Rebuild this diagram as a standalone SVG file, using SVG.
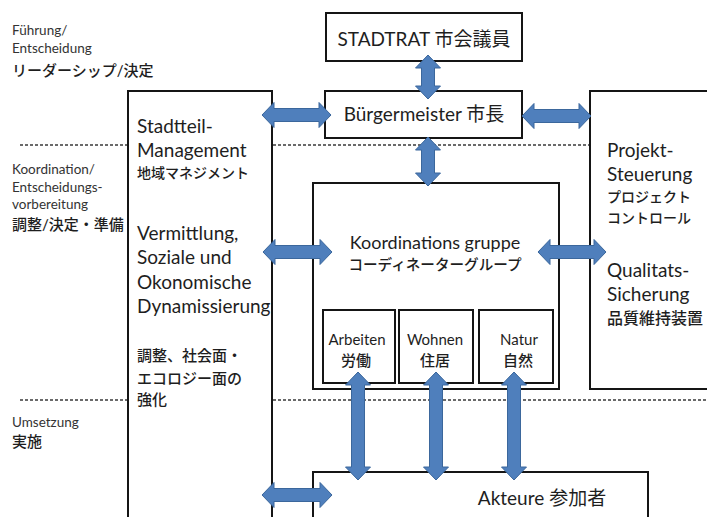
<svg xmlns="http://www.w3.org/2000/svg" width="707" height="517" viewBox="0 0 707 517">
<style>
text{font-family:Lato,"Noto Sans CJK JP",sans-serif;fill:#1e1e1e}
.sm{font-size:13.5px;fill:#333}
.jl{font-size:15px;font-weight:500}
.big{font-size:19px}
.jm{font-size:14px;font-weight:500}
.sub{font-size:15px}
.box{fill:#fff;stroke:#151515;stroke-width:2}
.dash{stroke:#3a3a3a;stroke-width:1.5;stroke-dasharray:3 2;fill:none}
.arr{fill:#4f7fbc;stroke:#3b679c;stroke-width:1}
.mid{text-anchor:middle}
</style>
<rect width="707" height="517" fill="#fff"/>
<g id="levels">
<line class="dash" x1="20" y1="145" x2="128" y2="145"/>
<line class="dash" x1="273" y1="145" x2="590" y2="145"/>
<line class="dash" x1="20" y1="400" x2="128" y2="400"/>
<line class="dash" x1="273" y1="400" x2="707" y2="400"/>
<text class="sm" x="12" y="35">Führung/</text>
<text class="sm" x="12" y="53">Entscheidung</text>
<text class="jl" x="12" y="76">リーダーシップ/決定</text>
<text class="sm" x="12" y="174">Koordination/</text>
<text class="sm" x="12" y="192">Entscheidungs-</text>
<text class="sm" x="12" y="209">vorbereitung</text>
<text class="jl" x="12" y="230">調整/決定・準備</text>
<text class="sm" x="12" y="427">Umsetzung</text>
<text class="jl" x="12" y="447">実施</text>
</g>
<g id="stadtrat">
<rect class="box" x="326" y="13" width="196" height="48"/>
<text class="big mid" x="424" y="46">STADTRAT 市会議員</text>
</g>
<g id="buergermeister">
<rect class="box" x="325" y="91" width="197" height="47"/>
<text class="big mid" x="424" y="121">Bürgermeister 市長</text>
</g>
<g id="stadtteil">
<rect class="box" x="128" y="91" width="144" height="440"/>
<text class="big" x="137" y="133">Stadtteil-</text>
<text class="big" x="137" y="157">Management</text>
<text class="jm" x="137" y="178">地域マネジメント</text>
<text class="big" x="137" y="240">Vermittlung,</text>
<text class="big" x="137" y="264">Soziale und</text>
<text class="big" x="137" y="289">Okonomische</text>
<text class="big" x="137" y="313">Dynamissierung</text>
<text class="jl" x="137" y="361">調整、社会面・</text>
<text class="jl" x="137" y="384">エコロジー面の</text>
<text class="jl" x="137" y="405">強化</text>
</g>
<g id="projekt">
<rect class="box" x="590" y="91" width="130" height="298"/>
<text class="big" x="607" y="157">Projekt-</text>
<text class="big" x="607" y="181">Steuerung</text>
<text class="jm" x="607" y="202">プロジェクト</text>
<text class="jm" x="607" y="223">コントロール</text>
<text class="big" x="607" y="277">Qualitats-</text>
<text class="big" x="607" y="301">Sicherung</text>
<text class="jl" x="607" y="324" style="font-size:16px">品質維持装置</text>
</g>
<g id="koordination">
<rect class="box" x="313" y="183" width="246" height="206"/>
<text class="mid" x="435" y="249" style="font-size:18px">Koordinations gruppe</text>
<text class="mid" x="435" y="270" style="font-size:14.6px;font-weight:500">コーディネーターグループ</text>
</g>
<g id="arbeiten">
<rect class="box" x="323" y="310" width="72" height="73"/>
<text class="sub mid" x="357" y="345">Arbeiten</text>
<text class="sub mid" x="356" y="366" style="font-weight:500">労働</text>
</g>
<g id="wohnen">
<rect class="box" x="399" y="310" width="74" height="73"/>
<text class="sub mid" x="435" y="345">Wohnen</text>
<text class="sub mid" x="435" y="366" style="font-weight:500">住居</text>
</g>
<g id="natur">
<rect class="box" x="479" y="310" width="74" height="73"/>
<text class="sub mid" x="519" y="345">Natur</text>
<text class="sub mid" x="518" y="366" style="font-weight:500">自然</text>
</g>
<g id="akteure">
<rect class="box" x="313" y="472" width="335" height="60"/>
<text class="big mid" x="542" y="505">Akteure 参加者</text>
</g>
<g id="connectors">
<path class="arr" d="M262,115 L274,102.5 L274,108.5 L319,108.5 L319,102.5 L331,115 L319,127.5 L319,121.5 L274,121.5 L274,127.5 Z"/>
<path class="arr" d="M522,116 L534,103.5 L534,109.5 L579,109.5 L579,103.5 L591,116 L579,128.5 L579,122.5 L534,122.5 L534,128.5 Z"/>
<path class="arr" d="M263,252 L275,239.5 L275,245.5 L320,245.5 L320,239.5 L332,252 L320,264.5 L320,258.5 L275,258.5 L275,264.5 Z"/>
<path class="arr" d="M538,252 L550,239.5 L550,245.5 L594,245.5 L594,239.5 L606,252 L594,264.5 L594,258.5 L550,258.5 L550,264.5 Z"/>
<path class="arr" d="M262,495 L274,482.5 L274,488.5 L320,488.5 L320,482.5 L332,495 L320,507.5 L320,501.5 L274,501.5 L274,507.5 Z"/>
<path class="arr" d="M428,55 L440.5,68 L434.5,68 L434.5,86 L440.5,86 L428,99 L415.5,86 L421.5,86 L421.5,68 L415.5,68 Z"/>
<path class="arr" d="M428,137 L440.5,150 L434.5,150 L434.5,173 L440.5,173 L428,186 L415.5,173 L421.5,173 L421.5,150 L415.5,150 Z"/>
<path class="arr" d="M358,372 L370.5,385 L364.5,385 L364.5,467 L370.5,467 L358,480 L345.5,467 L351.5,467 L351.5,385 L345.5,385 Z"/>
<path class="arr" d="M436,372 L448.5,385 L442.5,385 L442.5,467 L448.5,467 L436,480 L423.5,467 L429.5,467 L429.5,385 L423.5,385 Z"/>
<path class="arr" d="M514,372 L526.5,385 L520.5,385 L520.5,467 L526.5,467 L514,480 L501.5,467 L507.5,467 L507.5,385 L501.5,385 Z"/>
</g>
</svg>
